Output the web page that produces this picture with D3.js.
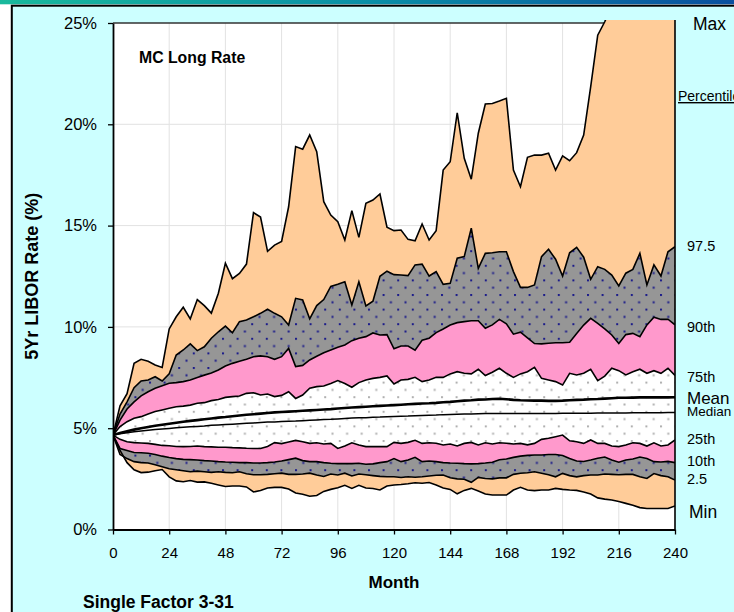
<!DOCTYPE html>
<html>
<head>
<meta charset="utf-8">
<script src="https://cdn.jsdelivr.net/npm/d3@7/dist/d3.min.js"></script>
<style>
  html, body { margin: 0; padding: 0; background: #ffffff; overflow: hidden; }
  svg { display: block; font-family: "Liberation Sans", Arial, sans-serif; }
</style>
</head>
<body>
<svg id="chart" width="734" height="612"></svg>
<script>
// Simulated 5-year LIBOR paths, monthly horizon sampled every 3 months (%)
const months = d3.range(0, 241, 3);

const pMax = [4.66, 6.1, 6.7, 8.2, 8.4, 8.3, 8.12, 8.0, 9.9, 10.5,
  10.97, 10.4, 11.35, 11.05, 10.68, 11.66, 13.14, 12.38, 12.64, 13.1,
  15.64, 15.42, 13.73, 14.04, 14.22, 15.93, 18.9, 18.77, 19.47, 18.65,
  16.18, 15.52, 15.19, 14.29, 15.74, 14.42, 16.1, 16.26, 16.56, 14.92,
  14.75, 14.78, 14.32, 14.25, 15.08, 14.29, 14.75, 17.74, 18.15, 20.57,
  18.32, 17.29, 19.56, 21.0, 21.03, 21.15, 21.28, 17.74, 16.92, 18.37,
  18.48, 18.48, 18.57, 17.74, 18.44, 18.2, 18.6, 19.47, 21.86, 24.4,
  25.06, 25.9, 26.8, 27.5, 28.3, 28.9, 29.6, 30.2, 30.8, 31.5, 32.0];

const p975 = [4.66, 5.7, 6.3, 7.0, 7.33, 7.38, 7.54, 7.33, 7.68, 8.61,
  8.86, 9.16, 8.83, 9.02, 9.44, 9.76, 10.04, 9.71, 10.26, 10.34,
  10.5, 10.67, 10.87, 10.67, 10.5, 10.09, 11.41, 11.33, 10.4, 11.05,
  11.35, 12.0, 12.1, 12.23, 11.08, 12.23, 11.03, 11.27, 12.5, 12.75,
  12.58, 12.56, 12.53, 13.06, 13.1, 12.51, 12.73, 12.1, 12.15, 13.39,
  13.47, 14.87, 12.89, 13.63, 13.66, 13.71, 13.71, 12.73, 11.95, 11.95,
  12.07, 13.47, 13.83, 13.34, 12.51, 13.66, 13.93, 13.44, 12.35, 12.97,
  12.84, 12.56, 12.02, 12.65, 12.84, 13.63, 12.07, 13.06, 12.51, 13.71, 13.96];

const p90 = [4.66, 5.4, 5.95, 6.3, 6.6, 6.8, 6.97, 7.1, 7.22, 7.25,
  7.3, 7.38, 7.5, 7.62, 7.72, 7.87, 8.07, 8.2, 8.3, 8.4,
  8.53, 8.57, 8.53, 8.4, 8.53, 8.94, 8.04, 8.1, 8.37, 8.55,
  8.72, 8.86, 9.0, 9.11, 9.32, 9.44, 9.52, 9.7, 9.6, 9.62,
  8.92, 9.06, 9.06, 8.85, 9.34, 9.44, 9.72, 9.9, 10.09, 10.21,
  10.26, 10.3, 10.3, 9.93, 10.1, 10.37, 10.15, 9.64, 9.74, 9.46,
  9.18, 9.16, 9.19, 9.22, 9.22, 9.24, 9.68, 10.09, 10.42, 10.17,
  9.9, 9.6, 9.18, 9.62, 9.68, 9.52, 10.1, 10.48, 10.37, 10.38, 10.1];

const p75 = [4.66, 5.08, 5.32, 5.49, 5.57, 5.7, 5.82, 5.9, 5.98, 6.06,
  6.09, 6.14, 6.23, 6.26, 6.36, 6.42, 6.52, 6.56, 6.59, 6.72,
  6.75, 6.64, 6.69, 6.56, 6.62, 6.8, 6.47, 6.64, 6.97, 7.05,
  7.08, 7.21, 7.35, 7.21, 7.02, 7.25, 7.38, 7.46, 7.51, 7.58,
  7.18, 7.38, 7.41, 7.51, 7.3, 7.38, 7.51, 7.51, 7.68, 7.79,
  7.71, 7.68, 7.91, 7.6, 7.76, 7.96, 7.71, 7.51, 7.68, 7.79,
  8.0, 7.46, 7.38, 7.3, 7.13, 7.71, 7.63, 7.71, 7.91, 7.35,
  7.57, 7.96, 7.84, 7.63, 7.79, 7.91, 7.71, 7.84, 7.71, 7.96, 7.6];

const pMean = [4.66, 4.76, 4.85, 4.93, 5.0, 5.06, 5.12, 5.17, 5.22, 5.27,
  5.32, 5.36, 5.4, 5.44, 5.48, 5.52, 5.55, 5.59, 5.63, 5.66,
  5.69, 5.72, 5.75, 5.78, 5.8, 5.82, 5.84, 5.86, 5.88, 5.9,
  5.92, 5.94, 5.97, 6.0, 6.02, 6.04, 6.06, 6.08, 6.1, 6.12,
  6.14, 6.16, 6.18, 6.2, 6.22, 6.23, 6.25, 6.28, 6.3, 6.33,
  6.36, 6.38, 6.41, 6.42, 6.44, 6.45, 6.43, 6.4, 6.38, 6.37,
  6.36, 6.36, 6.35, 6.35, 6.36, 6.38, 6.4, 6.41, 6.43, 6.44,
  6.46, 6.48, 6.5, 6.5, 6.51, 6.52, 6.52, 6.52, 6.52, 6.52, 6.53];

const pMedian = [4.66, 4.73, 4.78, 4.82, 4.86, 4.9, 4.93, 4.96, 4.99, 5.02,
  5.05, 5.07, 5.09, 5.11, 5.14, 5.16, 5.18, 5.2, 5.22, 5.24,
  5.26, 5.28, 5.3, 5.31, 5.33, 5.34, 5.35, 5.37, 5.39, 5.41,
  5.43, 5.44, 5.46, 5.48, 5.5, 5.51, 5.52, 5.54, 5.55, 5.57,
  5.58, 5.59, 5.6, 5.62, 5.63, 5.64, 5.65, 5.67, 5.68, 5.69,
  5.7, 5.7, 5.71, 5.72, 5.72, 5.72, 5.72, 5.72, 5.72, 5.73,
  5.73, 5.73, 5.73, 5.73, 5.74, 5.74, 5.74, 5.74, 5.74, 5.75,
  5.75, 5.75, 5.75, 5.75, 5.76, 5.76, 5.76, 5.76, 5.76, 5.77, 5.77];

const p25 = [4.66, 4.45, 4.33, 4.29, 4.27, 4.25, 4.2, 4.15, 4.13, 4.1,
  4.09, 4.1, 4.12, 4.09, 4.08, 4.06, 4.06, 4.04, 4.03, 4.01,
  4.0, 4.0, 4.1, 4.29, 4.24, 4.32, 4.4, 4.33, 4.25, 4.28,
  4.22, 4.25, 4.0, 4.12, 4.28, 4.17, 4.09, 4.09, 4.1, 4.09,
  4.3, 4.25, 4.3, 4.4, 4.25, 4.28, 4.26, 4.17, 4.22, 4.12,
  4.25, 4.3, 4.17, 4.28, 4.22, 4.28, 4.26, 4.22, 4.25, 4.18,
  4.25, 4.45, 4.5, 4.58, 4.66, 4.38, 4.33, 4.25, 4.42, 4.25,
  4.25, 4.12, 4.09, 4.17, 4.28, 4.25, 4.12, 4.28, 4.12, 4.17, 4.42];

const p10 = [4.66, 4.0, 3.9, 3.8, 3.79, 3.76, 3.7, 3.62, 3.55, 3.5,
  3.46, 3.45, 3.43, 3.4, 3.38, 3.35, 3.33, 3.32, 3.3, 3.3,
  3.28, 3.28, 3.3, 3.33, 3.38, 3.45, 3.52, 3.4, 3.35, 3.35,
  3.3, 3.27, 3.25, 3.25, 3.25, 3.27, 3.22, 3.24, 3.3, 3.35,
  3.5, 3.35, 3.43, 3.56, 3.35, 3.38, 3.35, 3.3, 3.28, 3.27,
  3.25, 3.24, 3.25, 3.28, 3.32, 3.44, 3.48, 3.56, 3.62, 3.66,
  3.68, 3.68, 3.7, 3.7, 3.65, 3.5, 3.38, 3.36, 3.43, 3.52,
  3.58, 3.43, 3.32, 3.43, 3.48, 3.58, 3.5, 3.35, 3.33, 3.36, 3.3];

const p025 = [4.66, 3.7, 3.5, 3.35, 3.3, 3.28, 3.2, 3.1, 3.0, 2.95,
  2.9, 2.85, 2.88, 2.85, 2.82, 2.85, 2.82, 2.8, 2.85, 2.75,
  2.7, 2.7, 2.72, 2.75, 2.78, 2.72, 2.72, 2.74, 2.78, 2.69,
  2.62, 2.74, 2.69, 2.78, 2.64, 2.74, 2.7, 2.66, 2.62, 2.6,
  2.6, 2.57, 2.6, 2.58, 2.6, 2.64, 2.68, 2.69, 2.55, 2.5,
  2.48, 2.33, 2.57, 2.52, 2.5, 2.55, 2.55, 2.72, 2.78, 2.8,
  2.85, 2.78, 2.7, 2.6, 2.77, 2.66, 2.6, 2.66, 2.69, 2.69,
  2.74, 2.72, 2.7, 2.72, 2.72, 2.6, 2.52, 2.76, 2.66, 2.6, 2.44];

const pMin = [4.66, 3.9, 3.3, 2.95, 2.81, 2.83, 2.9, 2.96, 2.6, 2.4,
  2.36, 2.42, 2.34, 2.35, 2.28, 2.2, 2.12, 2.15, 2.15, 2.1,
  1.85, 1.92, 2.05, 2.08, 2.08, 2.0, 1.8, 1.74, 1.64, 1.68,
  1.88, 1.98, 2.06, 2.18, 2.03, 2.18, 2.05, 2.02, 1.95, 2.15,
  2.2, 2.22, 2.26, 2.31, 2.28, 2.32, 2.2, 2.05, 1.98, 1.76,
  1.93, 2.03, 1.9, 1.75, 1.7, 1.7, 1.7, 1.95, 2.08, 1.95,
  1.92, 1.95, 1.95, 2.03, 1.98, 1.95, 1.93, 1.85, 1.75, 1.56,
  1.5, 1.46, 1.38, 1.29, 1.2, 1.08, 1.04, 1.04, 1.04, 1.04, 1.16];

const yTicks = [0, 5, 10, 15, 20, 25];
const xTicks = [0, 24, 48, 72, 96, 120, 144, 168, 192, 216, 240];

// Right-hand key: label, baseline y, x, font size
const sideLabels = [
  { text: "Max",    y: 29.5,  x: 693, size: 17.5 },
  { text: "97.5",   y: 250.7, x: 687, size: 14.5 },
  { text: "90th",   y: 332,   x: 687, size: 14.5 },
  { text: "75th",   y: 381.7, x: 687, size: 14.5 },
  { text: "Mean",   y: 403.5, x: 687, size: 17 },
  { text: "Median", y: 416,   x: 687, size: 13.5 },
  { text: "25th",   y: 444.3, x: 687, size: 14.5 },
  { text: "10th",   y: 465.7, x: 687, size: 14.5 },
  { text: "2.5",    y: 484.3, x: 687, size: 14.5 },
  { text: "Min",    y: 518.3, x: 689, size: 17.5 }
];

const W = 734, H = 612;
const plot = { left: 113, right: 675, top: 23, bottom: 529.5 };

const svg = d3.select("#chart");
const defs = svg.append("defs");

// Title bar gradient
const grad = defs.append("linearGradient").attr("id", "bar").attr("x1", "0").attr("x2", "1");
grad.append("stop").attr("offset", "0").attr("stop-color", "#19b99c");
grad.append("stop").attr("offset", "0.5").attr("stop-color", "#0a8fa6");
grad.append("stop").attr("offset", "1").attr("stop-color", "#0a4f9f");

// Dotted fills
function dotPattern(id, bg, dot) {
  const p = defs.append("pattern").attr("id", id)
    .attr("patternUnits", "userSpaceOnUse")
    .attr("width", 14.6).attr("height", 14.6)
    .attr("x", 3).attr("y", 2);
  p.append("rect").attr("width", 14.6).attr("height", 14.6).attr("fill", bg);
  p.append("rect").attr("x", 0).attr("y", 0).attr("width", 2).attr("height", 2).attr("fill", dot);
  p.append("rect").attr("x", 7.3).attr("y", 7.3).attr("width", 2).attr("height", 2).attr("fill", dot);
}
dotPattern("greyDots", "#969696", "#1c1c8a");
dotPattern("whiteDots", "#ffffff", "#b0b0b0");

defs.append("clipPath").attr("id", "plotClip")
  .append("rect")
  .attr("x", plot.left).attr("y", 20)
  .attr("width", plot.right - plot.left).attr("height", plot.bottom - 20);

// Page background and frame
svg.append("rect").attr("x", 0).attr("y", 0).attr("width", W).attr("height", 4.3).attr("fill", "url(#bar)");
svg.append("rect").attr("x", 11.8).attr("y", 5.7).attr("width", W + 20).attr("height", H)
  .attr("fill", "#ccffff").attr("stroke", "#000").attr("stroke-width", 2);

const x = d3.scaleLinear().domain([0, 240]).range([plot.left, plot.right]);
const y = d3.scaleLinear().domain([0, 25]).range([plot.bottom, plot.top]);

// Plot background and grid
svg.append("rect").attr("x", plot.left).attr("y", plot.top)
  .attr("width", plot.right - plot.left).attr("height", plot.bottom - plot.top)
  .attr("fill", "#ffffff");

const grid = svg.append("g").attr("stroke", "#e2e2e2").attr("stroke-width", 1);
grid.selectAll("line.h").data(yTicks.filter(d => d > 0 && d < 25)).join("line")
  .attr("x1", plot.left).attr("x2", plot.right)
  .attr("y1", d => y(d)).attr("y2", d => y(d));
grid.selectAll("line.v").data(xTicks.filter(d => d > 0 && d < 240)).join("line")
  .attr("x1", d => x(d)).attr("x2", d => x(d))
  .attr("y1", plot.top).attr("y2", plot.bottom);

svg.append("line").attr("x1", plot.left).attr("x2", plot.right)
  .attr("y1", plot.top).attr("y2", plot.top)
  .attr("stroke", "#333").attr("stroke-width", 1.5);

// Percentile bands
const bands = [
  { hi: pMax, lo: p975, fill: "#ffcc99" },
  { hi: p975, lo: p90,  fill: "url(#greyDots)" },
  { hi: p90,  lo: p75,  fill: "#ff99cc" },
  { hi: p75,  lo: p25,  fill: "url(#whiteDots)" },
  { hi: p25,  lo: p10,  fill: "#ff99cc" },
  { hi: p10,  lo: p025, fill: "url(#greyDots)" },
  { hi: p025, lo: pMin, fill: "#ffcc99" }
];

const gData = svg.append("g").attr("clip-path", "url(#plotClip)");

bands.forEach(b => {
  const area = d3.area()
    .x((d, i) => x(months[i]))
    .y0((d, i) => y(b.lo[i]))
    .y1((d, i) => y(b.hi[i]));
  gData.append("path").datum(b.hi).attr("d", area).attr("fill", b.fill).attr("stroke", "none");
});

const lineSeries = [
  { v: pMax, w: 1.6 }, { v: p975, w: 1.6 }, { v: p90, w: 1.6 }, { v: p75, w: 1.6 },
  { v: pMedian, w: 1.5 }, { v: pMean, w: 2.6 },
  { v: p25, w: 1.6 }, { v: p10, w: 1.6 }, { v: p025, w: 1.6 }, { v: pMin, w: 1.6 }
];
const line = d3.line().x((d, i) => x(months[i])).y(d => y(d));
lineSeries.forEach(s => {
  gData.append("path").datum(s.v).attr("d", line)
    .attr("fill", "none").attr("stroke", "#000")
    .attr("stroke-width", s.w).attr("stroke-linejoin", "miter");
});

// Right border of plot area
svg.append("line").attr("x1", plot.right).attr("x2", plot.right)
  .attr("y1", 20).attr("y2", plot.bottom)
  .attr("stroke", "#000").attr("stroke-width", 1.6);

// Axes
const yAxis = d3.axisLeft(y).tickValues(yTicks).tickFormat(d => d + "%")
  .tickSize(5).tickSizeOuter(0).tickPadding(11);
const gy = svg.append("g").attr("transform", `translate(${plot.left},0)`).call(yAxis);
gy.selectAll("text").attr("font-size", 16.5).attr("fill", "#000")
  .attr("font-family", "'Liberation Sans', Arial, sans-serif");

const xAxis = d3.axisBottom(x).tickValues(xTicks)
  .tickSize(5).tickSizeOuter(0).tickPadding(12.5);
const gx = svg.append("g").attr("transform", `translate(0,${plot.bottom})`).call(xAxis);
gx.selectAll("text").attr("font-size", 15).attr("fill", "#000")
  .attr("font-family", "'Liberation Sans', Arial, sans-serif");

[gy, gx].forEach(g => {
  g.select(".domain").attr("stroke", "#000").attr("stroke-width", 1.8);
  g.selectAll(".tick line").attr("stroke", "#000").attr("stroke-width", 1.3);
});

// Titles
svg.append("text").attr("x", 139).attr("y", 63)
  .attr("font-size", 15.8).attr("font-weight", "bold").text("MC Long Rate");

svg.append("text")
  .attr("transform", `translate(38,${(plot.top + plot.bottom) / 2}) rotate(-90)`)
  .attr("text-anchor", "middle").attr("font-size", 18).attr("font-weight", "bold")
  .text("5Yr LIBOR Rate (%)");

svg.append("text").attr("x", (plot.left + plot.right) / 2).attr("y", 588)
  .attr("text-anchor", "middle").attr("font-size", 17).attr("font-weight", "bold")
  .text("Month");

svg.append("text").attr("x", 83).attr("y", 608)
  .attr("font-size", 17.5).attr("font-weight", "bold").text("Single Factor 3-31");

// Key on the right
svg.append("text").attr("x", 678).attr("y", 101)
  .attr("font-size", 14).attr("text-decoration", "underline").text("Percentile");

svg.selectAll("text.side").data(sideLabels).join("text")
  .attr("class", "side")
  .attr("x", d => d.x).attr("y", d => d.y)
  .attr("font-size", d => d.size).attr("fill", "#000")
  .text(d => d.text);
</script>
</body>
</html>
